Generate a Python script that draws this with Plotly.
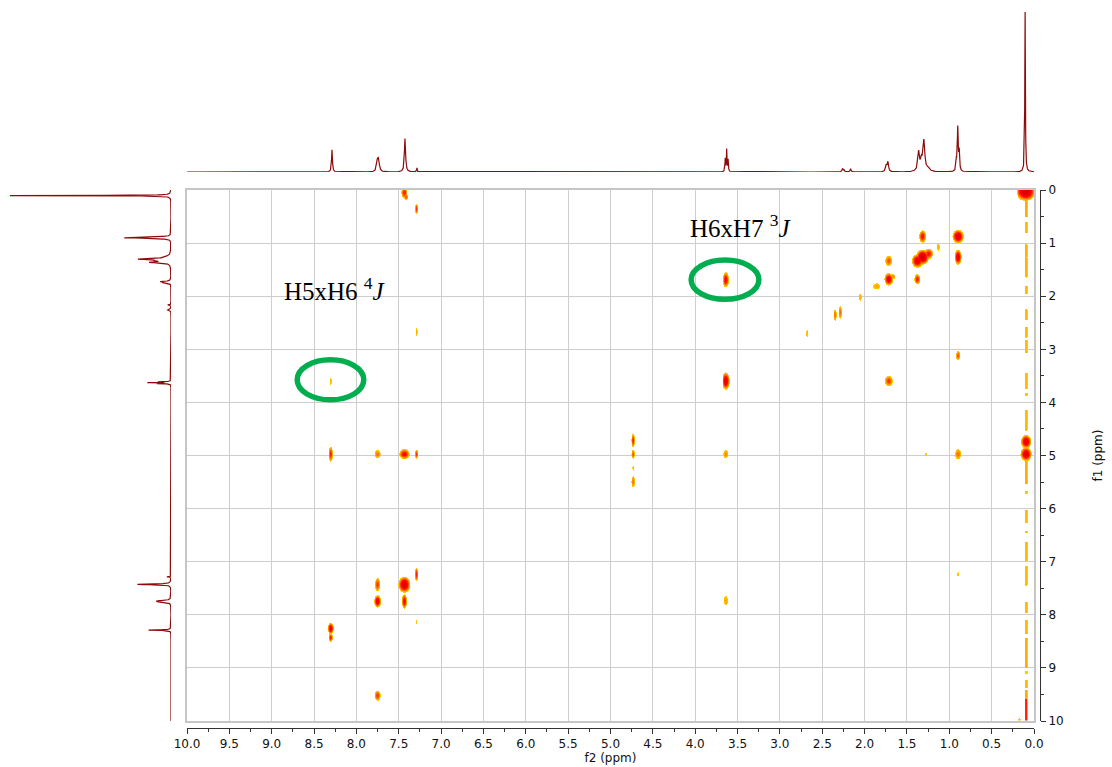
import numpy as np
import plotly.graph_objects as go

# ---------------- data ----------------
# 1D proton spectrum lines: position (ppm), height (rel.), half width (ppm)
h_ppm = [0.105, 0.917, 0.900, 0.883, 1.362, 1.330, 1.300, 1.250, 1.745, 1.725,
         2.262, 2.245, 2.165, 3.645, 3.628, 3.611, 7.285, 7.426, 7.752, 7.738, 8.288]
h_int = [100, 6, 27, 12, 12, 6, 19, 2, 4, 6,
         1.8, 1.4, 2.0, 8, 14, 7.5, 2.5, 21, 6, 6.5, 14]
h_hw = [0.004, 0.006, 0.006, 0.006, 0.012, 0.012, 0.013, 0.02, 0.009, 0.009,
        0.007, 0.007, 0.006, 0.004, 0.004, 0.004, 0.004, 0.008, 0.011, 0.011, 0.006]

# COSY cross / diagonal peaks: f2, f1 (ppm), relative intensity, extent f2 (ppm), extent f1 (ppm)
cp_f2 = [0.09, 7.43, 7.41, 7.29, 1.31, 0.89, 0.89, 1.71, 1.37, 1.31, 1.24, 1.13,
         1.71, 1.66, 1.37, 1.85, 2.05, 2.34, 2.28, 2.67, 0.89, 3.63, 3.63, 1.71,
         8.30, 7.29, 8.30, 7.75, 7.43, 7.29, 4.73, 4.73, 4.73, 4.73, 3.63, 0.89,
         1.27, 0.085, 0.085, 7.29, 7.75, 7.43, 7.75, 7.43, 7.29, 8.30, 8.30, 7.75,
         3.63, 0.89, 0.16]
cp_f1 = [0.04, 0.06, 0.14, 0.36, 0.87, 0.87, 1.27, 1.34, 1.34, 1.27, 1.21, 1.09,
         1.68, 1.63, 1.68, 1.81, 2.02, 2.36, 2.31, 2.70, 3.13, 1.69, 3.60, 3.60,
         3.60, 2.67, 4.98, 4.98, 4.98, 4.98, 4.72, 4.98, 5.25, 5.50, 4.98, 4.98,
         4.98, 4.74, 4.98, 7.25, 7.44, 7.44, 7.75, 7.75, 8.15, 8.27, 8.44, 9.53,
         7.74, 7.25, 9.98]
cp_amp = [1.0, 0.55, 0.45, 0.5, 0.6, 0.85, 0.8, 0.45, 0.8, 1.0, 0.6, 0.27,
          0.75, 0.35, 0.55, 0.3, 0.27, 0.4, 0.4, 0.26, 0.45, 0.65, 0.8, 0.5,
          0.25, 0.27, 0.55, 0.4, 0.65, 0.5, 0.55, 0.45, 0.24, 0.4, 0.35, 0.4,
          0.23, 0.85, 0.9, 0.55, 0.5, 0.9, 0.75, 0.65, 0.24, 0.75, 0.55, 0.5,
          0.3, 0.24, 0.24]
cp_wx = [0.23, 0.07, 0.05, 0.035, 0.08, 0.13, 0.08, 0.08, 0.13, 0.15, 0.10, 0.035,
         0.10, 0.05, 0.07, 0.08, 0.035, 0.04, 0.04, 0.025, 0.05, 0.07, 0.09, 0.09,
         0.025, 0.025, 0.05, 0.07, 0.12, 0.04, 0.04, 0.04, 0.018, 0.04, 0.06, 0.07,
         0.025, 0.12, 0.13, 0.04, 0.06, 0.14, 0.08, 0.06, 0.018, 0.07, 0.05, 0.07,
         0.05, 0.025, 0.035]
cp_wy = [0.34, 0.21, 0.11, 0.19, 0.23, 0.25, 0.28, 0.19, 0.25, 0.28, 0.19, 0.13,
         0.23, 0.09, 0.19, 0.11, 0.15, 0.21, 0.23, 0.13, 0.17, 0.28, 0.32, 0.19,
         0.13, 0.15, 0.30, 0.17, 0.21, 0.19, 0.25, 0.19, 0.09, 0.21, 0.17, 0.21,
         0.06, 0.25, 0.28, 0.25, 0.25, 0.30, 0.23, 0.27, 0.09, 0.21, 0.15, 0.19,
         0.17, 0.08, 0.06]

# t1-noise streak at f2 = 0.085 ppm: segments in f1 (start, end) and intensity
streak_f2 = 0.085
streak_start = [0.15, 0.60, 1.04, 1.28, 1.81, 2.26, 2.58, 2.83, 3.45, 3.82, 4.15, 4.34,
                5.03, 5.68, 6.04, 6.43, 6.64, 7.10, 7.77, 8.11, 8.45, 9.08, 9.25, 9.43, 9.60]
streak_end = [0.50, 0.80, 1.26, 1.64, 1.95, 2.45, 2.77, 3.08, 3.74, 3.88, 4.34, 4.53,
              5.53, 5.72, 6.28, 6.47, 6.98, 7.45, 7.96, 8.36, 9.00, 9.12, 9.38, 9.60, 10.0]
streak_amp = [0.3, 0.26, 0.28, 0.28, 0.26, 0.26, 0.26, 0.26, 0.26, 0.23, 0.26, 0.26,
              0.3, 0.23, 0.26, 0.23, 0.26, 0.26, 0.26, 0.26, 0.3, 0.23, 0.26, 0.3, 0.6]

# annotations
lab_text = ["H5xH6 <sup>4</sup><i>J</i>", "H6xH7 <sup>3</sup><i>J</i>"]
lab_f2 = [8.88, 4.09]
lab_f1 = [1.86, 0.68]
ell_f2 = [8.306, 3.648]
ell_f1 = [3.575, 1.689]
ell_rx = [0.393, 0.40]
ell_ry = [0.377, 0.37]

# ---------------- build figure ----------------
W, H = 1112, 767
THR = 0.2

# 1D trace
ppm = np.linspace(0, 10, 6001)
spec = np.zeros_like(ppm)
for p, h, w in zip(h_ppm, h_int, h_hw):
    spec += h * w * w / ((ppm - p) ** 2 + w * w)

# 2D surface
gx = np.arange(0, 10.0001, 0.0115)
gy = np.arange(0, 10.0001, 0.0185)
X, Y = np.meshgrid(gx, gy)
Z = np.zeros_like(X)
for x0, y0, a, wx, wy in zip(cp_f2, cp_f1, cp_amp, cp_wx, cp_wy):
    k = np.sqrt(2 * np.log(a / THR)) if a > THR else 1.0
    sx = (wx / 2) / k
    sy = (wy / 2) / k
    Z = np.maximum(Z, a * np.exp(-((X - x0) ** 2 / (2 * sx ** 2) + (Y - y0) ** 2 / (2 * sy ** 2))))
for s, e, a in zip(streak_start, streak_end, streak_amp):
    k = np.sqrt(2 * np.log(a / THR))
    sx = 0.017 / k
    d = np.maximum(0, np.maximum(s - Y, Y - e))
    Z = np.maximum(Z, a * np.exp(-(X - streak_f2) ** 2 / (2 * sx ** 2)) * np.exp(-(d / 0.012) ** 2))
Z = np.where(Z >= THR, Z, np.nan).astype(np.float32)

xd = [187 / W, 1034 / W]
yd = [1 - 721 / H, 1 - 190 / H]
topd = [1 - 172 / H, 1 - 12 / H]
leftd = [10 / W, 171 / W]

fig = go.Figure()
fig.add_trace(go.Heatmap(
    x=gx, y=gy, z=Z, zmin=THR, zmax=1.0, showscale=False, hoverinfo="skip",
    colorscale=[[0, "#FFD000"], [0.1, "#FFB000"], [0.22, "#FF7A00"], [0.38, "#FF2A00"],
                [0.55, "#FF0000"], [1, "#D40000"]],
    xaxis="x", yaxis="y"))
fig.add_trace(go.Scatter(x=[None], y=[None], xaxis="x2", yaxis="y2", showlegend=False, hoverinfo="skip"))
fig.add_trace(go.Scatter(x=ppm, y=spec, mode="lines", line=dict(color="#8B0A0A", width=1.2),
                         xaxis="x3", yaxis="y3", showlegend=False, hoverinfo="skip"))
fig.add_trace(go.Scatter(x=spec, y=ppm, mode="lines", line=dict(color="#8B0A0A", width=1.2),
                         xaxis="x4", yaxis="y4", showlegend=False, hoverinfo="skip"))

tickfont = dict(family="DejaVu Sans", size=12, color="#111")
fig.update_layout(
    width=W, height=H, margin=dict(l=0, r=0, t=0, b=0), template="none",
    paper_bgcolor="white", plot_bgcolor="white", showlegend=False,
    xaxis=dict(domain=xd, range=[10, 0], anchor="y", showgrid=True, gridcolor="#cdcdcd", gridwidth=1,
               dtick=0.5, showticklabels=False, ticks="", zeroline=False,
               showline=True, mirror=True, linecolor="#c6c6c6", linewidth=2),
    yaxis=dict(domain=yd, range=[10, 0], anchor="x", showgrid=True, gridcolor="#cdcdcd", gridwidth=1,
               dtick=1, showticklabels=False, ticks="", zeroline=False,
               showline=True, mirror=True, linecolor="#c6c6c6", linewidth=2),
    xaxis2=dict(overlaying="x", anchor="free", position=1 - 728 / H, range=[10, 0], side="bottom",
                showgrid=False, zeroline=False, showline=True, linecolor="#333", linewidth=1,
                ticks="outside", ticklen=5, tickcolor="#333", dtick=0.5, tickformat=".1f",
                minor=dict(dtick=0.25, ticks="outside", ticklen=3, tickcolor="#333", showgrid=False),
                tickfont=tickfont,
                title=dict(text="f2 (ppm)", font=dict(family="DejaVu Sans", size=12, color="#111"), standoff=0)),
    yaxis2=dict(overlaying="y", anchor="free", position=1040 / W, range=[10, 0], side="right",
                showgrid=False, zeroline=False, showline=True, linecolor="#333", linewidth=1,
                ticks="outside", ticklen=5, tickcolor="#333", dtick=1,
                minor=dict(dtick=0.5, ticks="outside", ticklen=3, tickcolor="#333", showgrid=False),
                tickfont=tickfont,
                title=dict(text="f1 (ppm)", font=dict(family="DejaVu Sans", size=12, color="#111"), standoff=30)),
    xaxis3=dict(domain=xd, range=[10, 0], anchor="y3", visible=False),
    yaxis3=dict(domain=topd, range=[0, 100], anchor="x3", visible=False),
    xaxis4=dict(domain=leftd, range=[100, 0], anchor="y4", visible=False),
    yaxis4=dict(domain=yd, range=[10, 0], anchor="x4", visible=False),
)

for t, x, y in zip(lab_text, lab_f2, lab_f1):
    fig.add_annotation(x=x, y=y, xref="x", yref="y", text=t, showarrow=False, xanchor="left",
                       yanchor="middle", font=dict(family="Liberation Serif", size=25, color="black"))
for cx, cy, rx, ry in zip(ell_f2, ell_f1, ell_rx, ell_ry):
    fig.add_shape(type="circle", xref="x", yref="y", x0=cx - rx, x1=cx + rx, y0=cy - ry, y1=cy + ry,
                  line=dict(color="#00AE50", width=5.5))

fig.write_html("out.html")
